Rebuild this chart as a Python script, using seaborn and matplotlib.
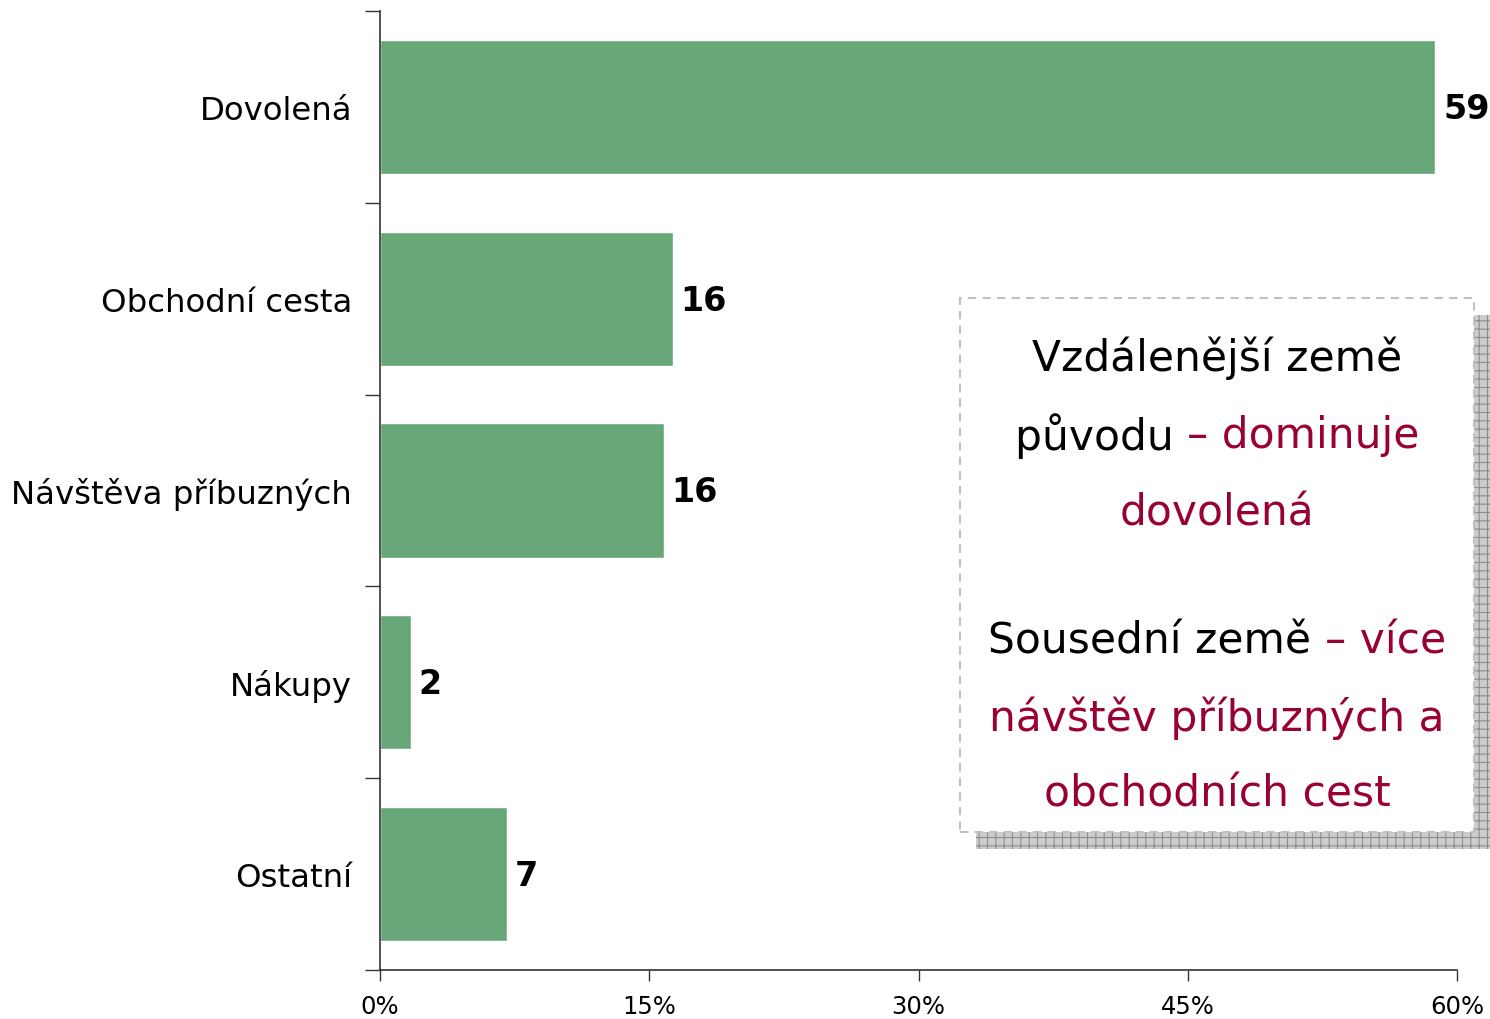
import matplotlib
matplotlib.use("Agg")
import matplotlib.pyplot as plt
import seaborn as sns
import pandas as pd
from matplotlib.patches import Rectangle
from matplotlib.ticker import FuncFormatter

categories = ["Dovolená", "Obchodní cesta", "Návštěva příbuzných", "Nákupy", "Ostatní"]
values = [58.8, 16.3, 15.8, 1.7, 7.1]
value_labels = ["59", "16", "16", "2", "7"]
x_ticks = [0, 15, 30, 45, 60]

box_lines = [
    [("Vzdálenější země", "#000000")],
    [("původu ", "#000000"), ("– dominuje", "#990033")],
    [("dovolená", "#990033")],
    [("Sousední země ", "#000000"), ("– více", "#990033")],
    [("návštěv příbuzných a", "#990033")],
    [("obchodních cest", "#990033")],
]

sns.set_style("white")
plt.rcParams["font.family"] = ["DejaVu Sans"]
plt.rcParams["hatch.linewidth"] = 0.8
plt.rcParams["text.color"] = "black"
plt.rcParams["xtick.color"] = "black"
plt.rcParams["ytick.color"] = "black"

W, H = 1490, 1020
fig = plt.figure(figsize=(14.9, 10.2), dpi=100)
ax = fig.add_axes([380 / W, 1 - 971 / H, (1457 - 380) / W, (971 - 12) / H])

df = pd.DataFrame({"cat": categories, "val": values})
sns.barplot(data=df, x="val", y="cat", orient="h", color="#68a878",
            saturation=1, width=0.70, ax=ax)

ax.set_xlim(0, 60)
ax.set_ylim(4.5, -0.5)
ax.set_xticks(x_ticks)
ax.xaxis.set_major_formatter(FuncFormatter(lambda v, p: f"{v:.0f}%"))
ax.set_xlabel("")
ax.set_ylabel("")
ax.set_yticks(range(len(categories)))
ax.set_yticklabels(categories, fontsize=23.3, color="black")
ax.set_yticks([i - 0.5 for i in range(len(categories) + 1)], minor=True)
ax.tick_params(axis="y", which="major", length=0, pad=20)
ax.tick_params(axis="y", which="minor", length=11, width=1, color="#333333", left=True)
ax.tick_params(axis="x", which="major", length=8, width=1, color="#333333",
               labelsize=17.5, pad=9, bottom=True, labelcolor="black")
for s in ["top", "right"]:
    ax.spines[s].set_visible(False)
for s in ["left", "bottom"]:
    ax.spines[s].set_color("#333333")
    ax.spines[s].set_linewidth(1.2)

for i, (v, lab) in enumerate(zip(values, value_labels)):
    ax.annotate(lab, xy=(v, i), xytext=(5.5, -1), textcoords="offset points",
                ha="left", va="center", fontsize=24, fontweight="bold",
                color="black", annotation_clip=False)

# Text box with hatched shadow (figure coordinates)
bx0, bx1, by0, by1 = 960, 1474, 299, 833
sh = Rectangle(((bx0 + 16) / W, 1 - (by1 + 17) / H), (bx1 - bx0) / W, (by1 - by0) / H,
               transform=fig.transFigure, facecolor="#cccccc", edgecolor="#8c8c8c",
               hatch="++", linewidth=0, zorder=5)
fig.patches.append(sh)
box = Rectangle((bx0 / W, 1 - by1 / H), (bx1 - bx0) / W, (by1 - by0) / H,
                transform=fig.transFigure, facecolor="white", edgecolor="#c0c0c0",
                linestyle=(0, (4, 3)), linewidth=1.5, zorder=6)
fig.patches.append(box)

renderer = fig.canvas.get_renderer()
line_y = [358, 436, 513, 641, 718, 795]
cx = 1217
for pieces, ypx in zip(box_lines, line_y):
    texts = []
    for s, c in pieces:
        t = fig.text(0, 1 - ypx / H, s, color=c, fontsize=30.5, ha="left",
                     va="center", zorder=7)
        texts.append(t)
    widths = [t.get_window_extent(renderer).width for t in texts]
    total = sum(widths)
    x = cx - total / 2
    for t, w in zip(texts, widths):
        t.set_x(x / W)
        x += w

fig.savefig("out.png", dpi=100)
